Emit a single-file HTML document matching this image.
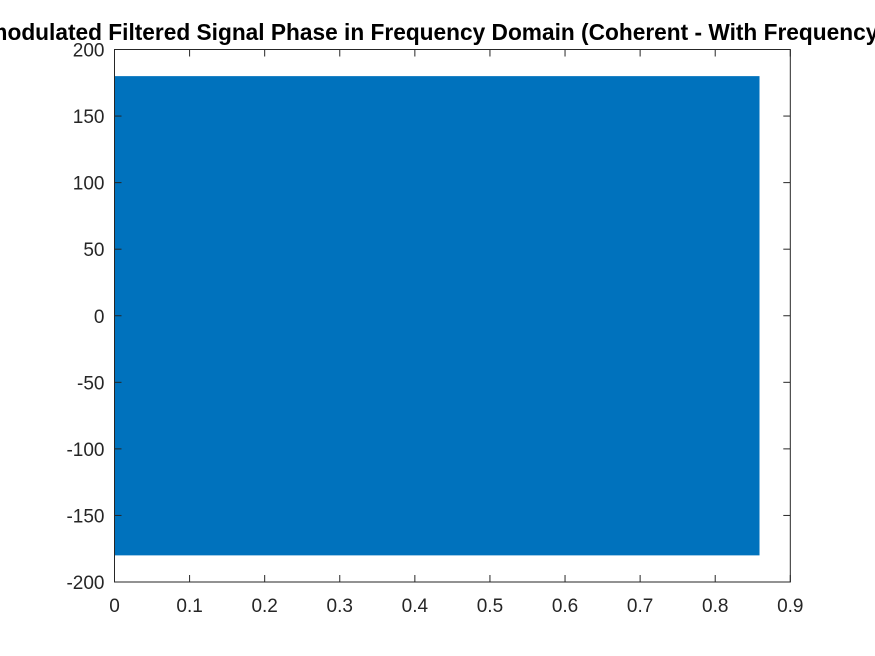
<!DOCTYPE html>
<html><head><meta charset="utf-8"><style>
html,body{margin:0;padding:0;background:#fff;overflow:hidden}
svg{display:block;font-family:"Liberation Sans",Arial,sans-serif}
</style></head><body>
<svg id="chart" width="875" height="656">
<text x="458" y="40" text-anchor="middle" font-size="22.7" font-weight="bold" fill="#000">Demodulated Filtered Signal Phase in Frequency Domain (Coherent - With Frequency Offset)</text>
<g id="plot"></g>
</svg>
<script>
const xTicks=[0,0.1,0.2,0.3,0.4,0.5,0.6,0.7,0.8,0.9];
const yTicks=[-200,-150,-100,-50,0,50,100,150,200];
const seriesX=[0,0.859];
const seriesYMin=[-180,-180];
const seriesYMax=[180,180];
const L=114.5,R=790.3,T=49.5,B=582;
const xs=v=>L+(v-0)/(0.9-0)*(R-L);
const ys=v=>B-(v+200)/400*(B-T);
const g=document.getElementById('plot');
const NS='http://www.w3.org/2000/svg';
function mk(t,a){const e=document.createElementNS(NS,t);for(const k in a)e.setAttribute(k,a[k]);g.appendChild(e);return e;}
let pts=[];
for(let i=0;i<seriesX.length;i++)pts.push(xs(seriesX[i])+','+ys(seriesYMax[i]));
for(let i=seriesX.length-1;i>=0;i--)pts.push(xs(seriesX[i])+','+ys(seriesYMin[i]));
const band=mk('polygon',{points:pts.join(' '),fill:'#0072BD'});


const box=mk('rect',{x:L,y:T,width:R-L,height:B-T,fill:'none',stroke:'#262626','stroke-width':1});


xTicks.forEach(v=>{const x=xs(v);
mk('line',{x1:x,x2:x,y1:B,y2:B-7,stroke:'#262626'});
mk('line',{x1:x,x2:x,y1:T,y2:T+7,stroke:'#262626'});
const t=mk('text',{x:x,y:B+30,'text-anchor':'middle','font-size':19,fill:'#262626'});t.textContent=String(v);

});
yTicks.forEach(v=>{const y=ys(v);
mk('line',{x1:L,x2:L+7,y1:y,y2:y,stroke:'#262626'});
mk('line',{x1:R,x2:R-7,y1:y,y2:y,stroke:'#262626'});
const t=mk('text',{x:L-10,y:y+7,'text-anchor':'end','font-size':19,fill:'#262626'});t.textContent=String(v);

});
</script>
</body></html>
